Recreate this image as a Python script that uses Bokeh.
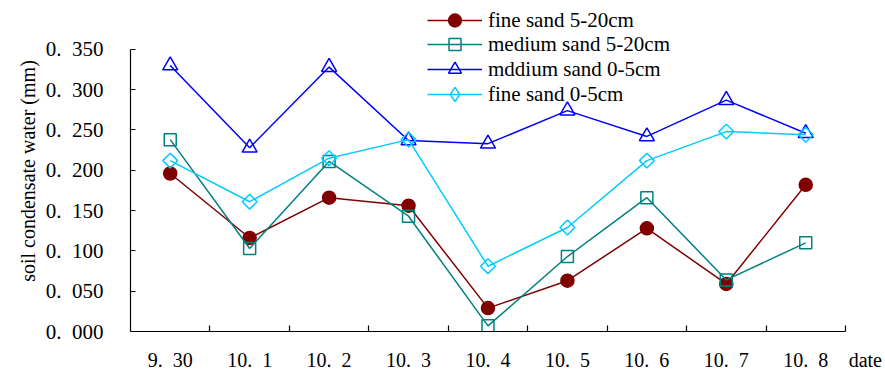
import math
from bokeh.plotting import figure
from bokeh.models import (Range1d, LinearAxis, FixedTicker, Legend,
                          LegendItem, ColumnDataSource, Title)
from bokeh.embed import file_html
from bokeh.resources import INLINE

# ---- data ----
dates = ["9.30", "10.1", "10.2", "10.3", "10.4", "10.5", "10.6", "10.7", "10.8"]
date_labels = ["9.\u200230", "10.\u20021", "10.\u20022", "10.\u20023", "10.\u20024",
               "10.\u20025", "10.\u20026", "10.\u20027", "10.\u20028"]
fine_5_20 = [0.196, 0.116, 0.166, 0.156, 0.029, 0.063, 0.128, 0.059, 0.182]
medium_5_20 = [0.238, 0.103, 0.211, 0.143, 0.007, 0.093, 0.166, 0.064, 0.110]
mddium_0_5 = [0.330, 0.228, 0.328, 0.237, 0.233, 0.274, 0.242, 0.287, 0.246]
fine_0_5 = [0.212, 0.161, 0.215, 0.238, 0.081, 0.129, 0.212, 0.248, 0.244]
series_names = ["fine sand 5-20cm", "medium sand 5-20cm", "mddium sand 0-5cm", "fine sand 0-5cm"]
y_ticks = [0.0, 0.05, 0.1, 0.15, 0.2, 0.25, 0.3, 0.35]
y_tick_labels = ["0.\u2002000", "0.\u2002050", "0.\u2002100", "0.\u2002150",
                 "0.\u2002200", "0.\u2002250", "0.\u2002300", "0.\u2002350"]
y_title = "soil condensate water (mm)"
x_title = "date"

FONT = "'Liberation Serif'"

n = len(dates)
xpos = [i + 0.5 for i in range(n)]          # category slot centres
bounds_ticks = list(range(1, n + 1))        # category slot boundaries
x_title_pos = n + 0.25

p = figure(width=885, height=373,
           x_range=Range1d(0, 9.504),
           y_range=Range1d(0, 0.3982),
           output_backend="svg", toolbar_location=None,
           x_axis_location=None, y_axis_location=None,
           min_border_left=130, min_border_right=0,
           min_border_top=10, min_border_bottom=41)
p.outline_line_color = None
p.xgrid.visible = False
p.ygrid.visible = False
p.background_fill_color = "white"
p.border_fill_color = "white"

xaxis = LinearAxis(ticker=FixedTicker(ticks=xpos + [x_title_pos], minor_ticks=bounds_ticks),
                   bounds=(0, n),
                   major_label_overrides={**{x: l for x, l in zip(xpos, date_labels)},
                                          x_title_pos: x_title},
                   major_tick_line_color=None, major_tick_in=0, major_tick_out=0,
                   minor_tick_in=6, minor_tick_out=0,
                   minor_tick_line_color="black", minor_tick_line_width=1.2,
                   axis_line_color="black", axis_line_width=1.2,
                   major_label_standoff=17,
                   major_label_text_font=FONT, major_label_text_font_size="20px",
                   major_label_text_color="black")
p.add_layout(xaxis, "below")

yaxis = LinearAxis(ticker=FixedTicker(ticks=y_ticks), bounds=(0, 0.35),
                   major_label_overrides={t: l for t, l in zip(y_ticks, y_tick_labels)},
                   major_tick_in=5, major_tick_out=0, minor_tick_line_color=None,
                   axis_line_color="black", axis_line_width=1.2,
                   major_tick_line_color="black", major_tick_line_width=1.2,
                   major_label_standoff=27,
                   major_label_text_font=FONT, major_label_text_font_size="21px",
                   major_label_text_color="black")
p.add_layout(yaxis, "left")

p.add_layout(Title(text=y_title, align="center", offset=17, standoff=8,
                   text_font=FONT, text_font_size="20px", text_font_style="normal",
                   text_color="black"), "left")

src = ColumnDataSource(dict(x=xpos, date=dates, a=fine_5_20, b=medium_5_20,
                            c=mddium_0_5, d=fine_0_5))

specs = [
    ("a", "#800000", "circle", 13, "#800000", 0, 32, None),
    ("b", "#008080", "square", 12, None, 0, 30, None),
    ("c", "#0000FF", "triangle", 15, None, 0, 32, None),
    ("d", "#00CCFF", "square", 10.5, None, math.pi / 4, 36, "diamond"),
]
legend_centres = [21, 45.5, 70, 95]   # page y of each legend row
for (col, color, marker, size, fill, ang, gh, lmarker), name, cy in zip(specs, series_names, legend_centres):
    ln = p.line("x", col, source=src, line_color=color, line_width=1.5)
    sc = p.scatter("x", col, source=src, marker=marker, size=size, angle=ang,
                   line_color=color, line_width=1.5, fill_color=fill)
    rs = [ln, sc]
    if lmarker is not None:
        # zero-size twin used only so the legend shows an upright diamond
        twin = p.scatter("x", col, source=src, marker=lmarker, size=0,
                         line_color=color, line_width=1.5, fill_color=fill)
        rs = [ln, twin]
    lg = Legend(items=[LegendItem(label=name, renderers=rs)],
                location=(297, round(332 - (cy + gh / 2))),
                glyph_width=55, glyph_height=gh, label_height=24,
                padding=0, margin=0, label_standoff=6, spacing=0,
                label_text_font=FONT, label_text_font_size="21px",
                label_text_color="black",
                border_line_color=None, background_fill_alpha=0)
    p.add_layout(lg)

open("out.html", "w").write(file_html(p, INLINE))
